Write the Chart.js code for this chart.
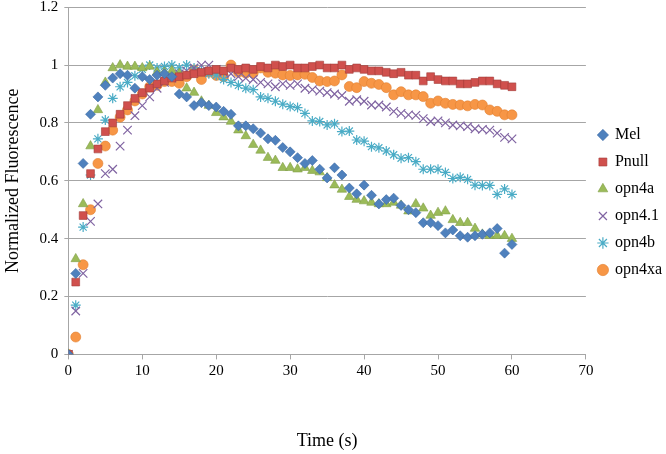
<!DOCTYPE html>
<html>
<head>
<meta charset="utf-8">
<script src="https://cdn.jsdelivr.net/npm/chart.js@4"></script>
<style>
  html, body { margin: 0; padding: 0; background: #fff; }
  #wrap { width: 666px; height: 454px; }
</style>
</head>
<body>
<div id="wrap"><canvas id="chart" width="666" height="454"></canvas></div>
<script>
// time in seconds, one sample per second
const times = [];
for (let t = 0; t <= 60; t++) times.push(t);

const mel = [0, 0.28, 0.66, 0.83, 0.89, 0.93, 0.955, 0.97, 0.965, 0.92,
  0.96, 0.95, 0.965, 0.97, 0.96, 0.90, 0.89, 0.86, 0.87, 0.86,
  0.855, 0.84, 0.83, 0.79, 0.79, 0.78, 0.765, 0.745, 0.74, 0.715,
  0.70, 0.68, 0.66, 0.67, 0.64, 0.61, 0.645, 0.62, 0.575, 0.555,
  0.585, 0.55, 0.52, 0.535, 0.54, 0.515, 0.50, 0.49, 0.455, 0.455,
  0.445, 0.42, 0.43, 0.41, 0.405, 0.41, 0.415, 0.42, 0.435, 0.35, 0.38];
const pnull = [0, 0.25, 0.48, 0.625, 0.71, 0.77, 0.80, 0.83, 0.86, 0.885,
  0.905, 0.92, 0.935, 0.945, 0.955, 0.96, 0.965, 0.97, 0.975, 0.98,
  0.985, 0.98, 0.99, 0.985, 0.99, 0.985, 0.995, 0.99, 1.0, 0.995,
  1.0, 0.99, 0.99, 0.995, 1.0, 0.99, 0.99, 1.0, 0.985, 0.99,
  0.985, 0.98, 0.98, 0.975, 0.97, 0.975, 0.965, 0.965, 0.945, 0.96,
  0.95, 0.945, 0.945, 0.935, 0.935, 0.94, 0.945, 0.945, 0.935, 0.93, 0.925];
const opn4a = [0, 0.33, 0.52, 0.72, 0.845, 0.94, 0.99, 1.0, 0.995, 0.995,
  0.99, 0.995, 0.975, 0.975, 0.98, 0.97, 0.92, 0.905, 0.875, 0.86,
  0.835, 0.82, 0.805, 0.775, 0.755, 0.725, 0.705, 0.68, 0.67, 0.645,
  0.645, 0.64, 0.645, 0.635, 0.63, 0.61, 0.585, 0.57, 0.545, 0.535,
  0.53, 0.525, 0.52, 0.52, 0.525, 0.515, 0.495, 0.52, 0.505, 0.48,
  0.49, 0.495, 0.465, 0.455, 0.455, 0.435, 0.415, 0.41, 0.41, 0.41, 0.40];
const opn41 = [0, 0.15, 0.28, 0.46, 0.52, 0.625, 0.64, 0.72, 0.775, 0.825,
  0.86, 0.89, 0.92, 0.94, 0.955, 0.97, 0.98, 0.99, 1.0, 1.0,
  0.985, 0.975, 0.97, 0.96, 0.955, 0.95, 0.94, 0.935, 0.925, 0.935,
  0.93, 0.935, 0.92, 0.915, 0.91, 0.905, 0.90, 0.895, 0.875, 0.88,
  0.875, 0.862, 0.862, 0.855, 0.84, 0.833, 0.828, 0.826, 0.815, 0.805,
  0.807, 0.80, 0.793, 0.79, 0.787, 0.78, 0.778, 0.775, 0.765, 0.75, 0.745];
const opn4b = [0, 0.17, 0.44, 0.62, 0.745, 0.81, 0.885, 0.925, 0.94, 0.963,
  0.985, 1.0, 0.99, 0.995, 1.0, 0.99, 1.0, 0.99, 0.98, 0.97,
  0.965, 0.95, 0.94, 0.93, 0.92, 0.915, 0.89, 0.885, 0.875, 0.865,
  0.857, 0.853, 0.833, 0.807, 0.805, 0.793, 0.797, 0.77, 0.772, 0.741,
  0.737, 0.718, 0.714, 0.703, 0.69, 0.678, 0.68, 0.666, 0.64, 0.64,
  0.64, 0.629, 0.608, 0.612, 0.605, 0.585, 0.584, 0.584, 0.553, 0.572, 0.553];
const opn4xa = [0, 0.06, 0.31, 0.50, 0.66, 0.72, 0.775, 0.82, 0.845, 0.876,
  0.90, 0.925, 0.93, 0.943, 0.943, 0.937, 0.96, 0.983, 0.95, 0.975,
  0.964, 0.96, 1.0, 0.975, 0.972, 0.972, 0.99, 0.975, 0.972, 0.966,
  0.964, 0.966, 0.968, 0.957, 0.945, 0.943, 0.945, 0.966, 0.926, 0.922,
  0.943, 0.937, 0.933, 0.922, 0.897, 0.908, 0.897, 0.897, 0.891, 0.868,
  0.876, 0.868, 0.864, 0.862, 0.859, 0.864, 0.862, 0.845, 0.84, 0.828, 0.828];

const xTicks = [0, 10, 20, 30, 40, 50, 60, 70];
const yTicks = [0, 0.2, 0.4, 0.6, 0.8, 1, 1.2];

const serif = "'Liberation Serif', 'DejaVu Serif', serif";

function pts(values) {
  return values.map((v, i) => ({ x: times[i], y: v }));
}

function series(label, values, color, edge, style, radius) {
  return {
    label: label,
    data: pts(values),
    backgroundColor: color,
    borderColor: edge,
    borderWidth: (style === 'crossRot' || style === 'star') ? 1.2 : 0.6,
    pointStyle: style,
    pointRadius: radius,
    showLine: false
  };
}

const datasets = [
  series('Mel', mel, '#4f81bd', '#3a6aa5', 'rectRot', 5),
  series('Pnull', pnull, '#d0504d', '#a33c39', 'rect', 5.5),
  series('opn4a', opn4a, '#9bbb59', '#7f9e45', 'triangle', 5.5),
  series('opn4.1', opn41, '#8064a2', '#8064a2', 'crossRot', 6),
  series('opn4b', opn4b, '#4bacc6', '#4bacc6', 'star', 5),
  series('opn4xa', opn4xa, '#f79646', '#e07f30', 'circle', 5)
];

// nudge the legend block up/right like the original layout
const legendShift = {
  id: 'legendShift',
  afterLayout(chart) {
    const lg = chart.legend;
    if (!lg) return;
    lg.top -= 27;
    lg.bottom -= 27;
    lg.left += 2;
    lg.right += 2;
  }
};

const ctx = document.getElementById('chart').getContext('2d');
new Chart(ctx, {
  type: 'scatter',
  data: { datasets: datasets },
  plugins: [legendShift],
  options: {
    responsive: false,
    animation: false,
    layout: { padding: { top: 5, right: -4, left: 0, bottom: 0 } },
    plugins: {
      tooltip: { enabled: false },
      legend: {
        position: 'right',
        align: 'center',
        labels: {
          usePointStyle: true,
          boxWidth: 8,
          boxHeight: 8,
          padding: 11,
          color: '#000',
          font: { family: serif, size: 16 }
        }
      }
    },
    scales: {
      x: {
        type: 'linear',
        min: 0,
        max: 70,
        afterBuildTicks: axis => { axis.ticks = xTicks.map(v => ({ value: v })); },
        grid: { drawOnChartArea: false, drawTicks: true, tickLength: 5, color: '#a6a6a6' },
        border: { color: '#a6a6a6' },
        ticks: { color: '#000', font: { family: serif, size: 15 }, padding: 3 },
        title: {
          display: true,
          text: 'Time (s)',
          color: '#000',
          font: { family: serif, size: 18 },
          padding: { top: 47, bottom: 2 }
        }
      },
      y: {
        type: 'linear',
        min: 0,
        max: 1.2,
        afterBuildTicks: axis => { axis.ticks = yTicks.map(v => ({ value: v })); },
        afterFit: axis => { axis.paddingTop = 0; },
        grid: { color: '#a6a6a6', tickLength: 4 },
        border: { color: '#a6a6a6' },
        ticks: {
          color: '#000',
          font: { family: serif, size: 15 },
          padding: 6,
          callback: v => String(v)
        },
        title: {
          display: true,
          text: 'Normalized Fluorescence',
          color: '#000',
          font: { family: serif, size: 18 },
          padding: { top: 2, bottom: 10 }
        }
      }
    }
  }
});
</script>
</body>
</html>
